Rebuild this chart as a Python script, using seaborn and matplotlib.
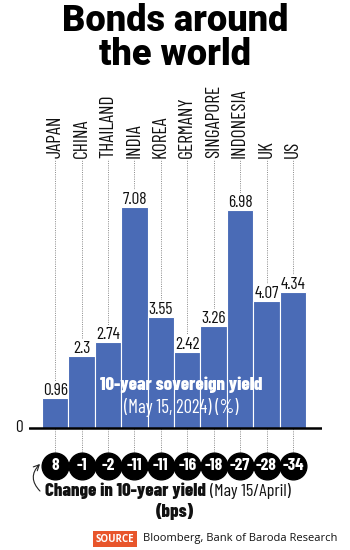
import matplotlib
matplotlib.use("Agg")
import matplotlib.pyplot as plt
import pandas as pd
import seaborn as sns

countries = ["JAPAN", "CHINA", "THAILAND", "INDIA", "KOREA", "GERMANY",
             "SINGAPORE", "INDONESIA", "UK", "US"]
yield_pct = [0.96, 2.3, 2.74, 7.08, 3.55, 2.42, 3.26, 6.98, 4.07, 4.34]
yield_labels = ["0.96", "2.3", "2.74", "7.08", "3.55", "2.42", "3.26", "6.98", "4.07", "4.34"]
change_bps = [8, -1, -2, -11, -11, -16, -18, -27, -28, -34]

BAR_COLOR = "#4a6bb6"
COND = ["Barlow Condensed", "DejaVu Sans"]
TITLE_FONT = ["Roboto", "DejaVu Sans"]
SRC_FONT = ["Open Sans", "DejaVu Sans"]

sns.set_style("white")
plt.rcParams["font.family"] = COND

df = pd.DataFrame({"country": countries, "yield": yield_pct})

fig = plt.figure(figsize=(3.5, 5.5), dpi=100)
# baseline sits at y=427.7 px, 31.2 px per percentage point
ax = fig.add_axes([29 / 350, 60 / 550, 293 / 350, 395 / 550])

sns.barplot(data=df, x="country", y="yield", order=countries, color=BAR_COLOR,
            saturation=1, width=1.0, edgecolor="white", linewidth=0.8, ax=ax, zorder=2)

ax.set_xlim(-0.99, 10.1)
ax.set_ylim(-(490 - 427.7) / 31.2, (427.7 - 95) / 31.2)

# dotted guides from country names down to the circles
for i in range(len(countries)):
    ax.plot([i, i], [-0.78, 8.6], ls=(0, (1, 1.3)), color="#8a8a8a", lw=0.7, zorder=1)

# country names
for i, c in enumerate(countries):
    ax.text(i, 8.66, c, rotation=90, ha="center", va="bottom", fontsize=14,
            color="#111111", zorder=4)

# value labels on top of bars
for i, (v, lab) in enumerate(zip(yield_pct, yield_labels)):
    ax.text(i, v + 0.1, lab, ha="center", va="baseline", fontsize=12.5, color="#111111",
            zorder=1.5, bbox=dict(facecolor="white", edgecolor="none", pad=1.5))

# baseline
ax.axhline(0, color="black", lw=1.8, zorder=3)
ax.text(-1.37, 0, "0", ha="center", va="center", fontsize=12.5, color="#111111",
        clip_on=False)

# inner caption
ax.text(4.77, 1.38, "10-year sovereign yield", ha="center", va="center",
        fontsize=13.5, fontweight=800, color="white", zorder=5)
ax.text(4.77, 0.66, "(May 15, 2024) (%)", ha="center", va="center",
        fontsize=13.5, color="white", zorder=5)

# change circles
circle_y = -(466 - 427.7) / 31.2
ax.scatter(range(len(countries)), [circle_y] * len(countries), s=370, color="black",
           zorder=5, clip_on=False)
for i, ch in enumerate(change_bps):
    ax.text(i, circle_y, str(ch), ha="center", va="center", fontsize=12.5,
            fontweight="bold", color="white", zorder=6, clip_on=False)

ax.set_xlabel("")
ax.set_ylabel("")
ax.set_xticks([])
ax.set_yticks([])
sns.despine(ax=ax, left=True, bottom=True)

# title
fig.text(0.5, 1 - 38 / 550, "Bonds around\nthe world", ha="center", va="center",
         fontsize=26, fontweight=900, family=TITLE_FONT,
         linespacing=0.9, color="black")

# bottom caption
fig.text(206 / 350, 1 - 491 / 550, "Change in 10-year yield", ha="right", va="center",
         fontsize=13.5, fontweight=800, color="#111111")
fig.text(210 / 350, 1 - 491 / 550, "(May 15/April)", ha="left", va="center",
         fontsize=13, color="#111111")
fig.text(175 / 350, 1 - 511 / 550, "(bps)", ha="center", va="center",
         fontsize=13.5, fontweight=800, color="#111111")

ax.annotate("", xy=(42 / 350, 1 - 462 / 550), xytext=(42 / 350, 1 - 493 / 550),
            xycoords="figure fraction", textcoords="figure fraction",
            arrowprops=dict(arrowstyle="->", connectionstyle="arc3,rad=-0.55",
                            lw=0.8, color="#222222"))

# source line
fig.text(115 / 350, 1 - 539 / 550, "SOURCE", ha="center", va="center", fontsize=7,
         fontweight="bold", color="white", family=SRC_FONT,
         bbox=dict(facecolor="#e8552b", edgecolor="none", pad=1.8))
fig.text(143 / 350, 1 - 539 / 550, "Bloomberg, Bank of Baroda Research", ha="left",
         va="center", fontsize=8, color="#111111", family=SRC_FONT)

fig.savefig("out.png", dpi=100)
